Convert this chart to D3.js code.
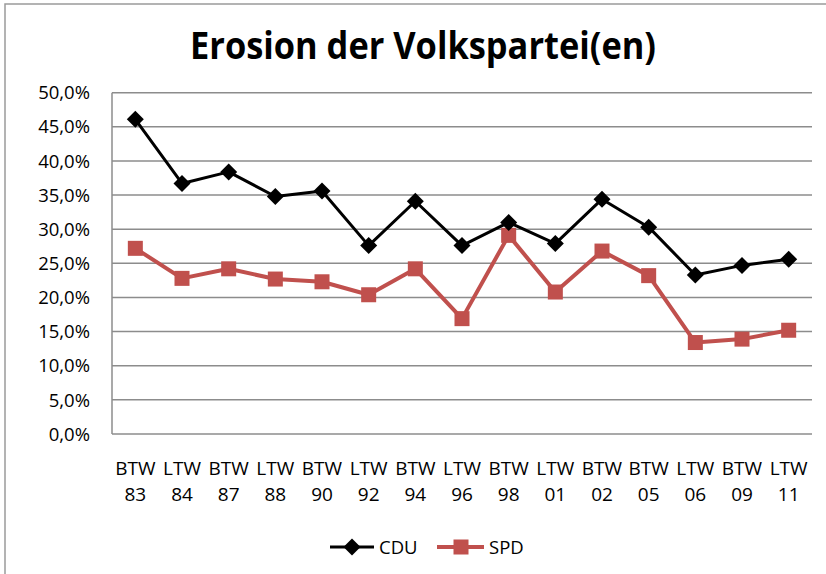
<!DOCTYPE html>
<html><head><meta charset="utf-8">
<script src="https://cdn.jsdelivr.net/npm/d3@7"></script>
<style>body{margin:0;background:#fff}svg{display:block}</style>
</head><body>
<script>
const categories = [["BTW","83"],["LTW","84"],["BTW","87"],["LTW","88"],["BTW","90"],["LTW","92"],["BTW","94"],["LTW","96"],["BTW","98"],["LTW","01"],["BTW","02"],["BTW","05"],["LTW","06"],["BTW","09"],["LTW","11"]];
const cdu = [46.1,36.7,38.4,34.8,35.6,27.6,34.1,27.6,31.0,27.9,34.4,30.3,23.3,24.7,25.6];
const spd = [27.2,22.8,24.2,22.7,22.3,20.4,24.2,16.9,29.1,20.8,26.8,23.2,13.4,13.9,15.2];
const yTicks = [0,5,10,15,20,25,30,35,40,45,50];
const title = "Erosion der Volkspartei(en)";

const W = 826, H = 574;
const svg = d3.select("body").append("svg").attr("width", W).attr("height", H);
svg.append("rect").attr("x",5).attr("y",4).attr("width",W+10).attr("height",H+10)
  .attr("fill","#fff").attr("stroke","#9a9a9a").attr("stroke-width",1.5);

const L = 112, R = 812, T = 92.7, B = 434;
const x = d3.scaleBand().domain(d3.range(categories.length)).range([L, R]);
const y = d3.scaleLinear().domain([0, 50]).range([B, T]);
const font = "'Open Sans', sans-serif";

svg.append("text").attr("x", 423).attr("y", 59).attr("text-anchor","middle")
  .attr("font-family","'Open Sans',sans-serif").attr("font-weight","bold")
  .attr("font-size",37).attr("textLength",466).attr("lengthAdjust","spacingAndGlyphs")
  .attr("fill","#000").text(title);

// gridlines
svg.append("g").selectAll("line").data(yTicks).join("line")
  .attr("x1", L).attr("x2", R).attr("y1", d => y(d)).attr("y2", d => y(d))
  .attr("stroke","#8c8c8c").attr("stroke-width",1.5);
svg.append("line").attr("x1",L).attr("x2",L).attr("y1",T).attr("y2",B)
  .attr("stroke","#8c8c8c").attr("stroke-width",1.5);

// y labels
const fmt = v => d3.format(".1f")(v).replace(".", ",") + "%";
svg.append("g").selectAll("text").data(yTicks).join("text")
  .attr("x", 90).attr("y", d => y(d)).attr("dy","0.36em").attr("text-anchor","end")
  .attr("font-family",font).attr("font-size",18.5).attr("fill","#000").text(fmt);

// x labels
const xl = svg.append("g").selectAll("text").data(categories).join("text")
  .attr("text-anchor","middle").attr("font-family",font).attr("font-size",19).attr("fill","#000");
xl.append("tspan").attr("x",(d,i)=>x(i)+x.bandwidth()/2).attr("y",475).text(d=>d[0]);
xl.append("tspan").attr("x",(d,i)=>x(i)+x.bandwidth()/2).attr("y",501).text(d=>d[1]);

const cx = i => x(i) + x.bandwidth()/2;
const line = d3.line().x((d,i)=>cx(i)).y(d=>y(d));

svg.append("path").datum(spd).attr("d", line).attr("fill","none")
  .attr("stroke","#c0504d").attr("stroke-width",4).attr("stroke-linejoin","round");
svg.append("g").selectAll("rect").data(spd).join("rect")
  .attr("x",(d,i)=>cx(i)-7.5).attr("y",d=>y(d)-7.5).attr("width",15).attr("height",15)
  .attr("fill","#c0504d");

svg.append("path").datum(cdu).attr("d", line).attr("fill","none")
  .attr("stroke","#000").attr("stroke-width",3).attr("stroke-linejoin","round");
const diamond = "M0,-8.5L8.5,0L0,8.5L-8.5,0Z";
svg.append("g").selectAll("path").data(cdu).join("path")
  .attr("d", diamond).attr("transform",(d,i)=>`translate(${cx(i)},${y(d)})`).attr("fill","#000");

// legend
const ly = 547;
svg.append("line").attr("x1",330).attr("x2",374).attr("y1",ly).attr("y2",ly).attr("stroke","#000").attr("stroke-width",3);
svg.append("path").attr("d",diamond).attr("transform",`translate(352,${ly})`).attr("fill","#000");
svg.append("text").attr("x",379).attr("y",ly).attr("dy","0.36em").attr("font-family",font).attr("font-size",18.5).text("CDU");
svg.append("line").attr("x1",437).attr("x2",484).attr("y1",ly).attr("y2",ly).attr("stroke","#c0504d").attr("stroke-width",4);
svg.append("rect").attr("x",453.5).attr("y",ly-7.5).attr("width",15).attr("height",15).attr("fill","#c0504d");
svg.append("text").attr("x",489).attr("y",ly).attr("dy","0.36em").attr("font-family",font).attr("font-size",18.5).text("SPD");
</script>
</body></html>
